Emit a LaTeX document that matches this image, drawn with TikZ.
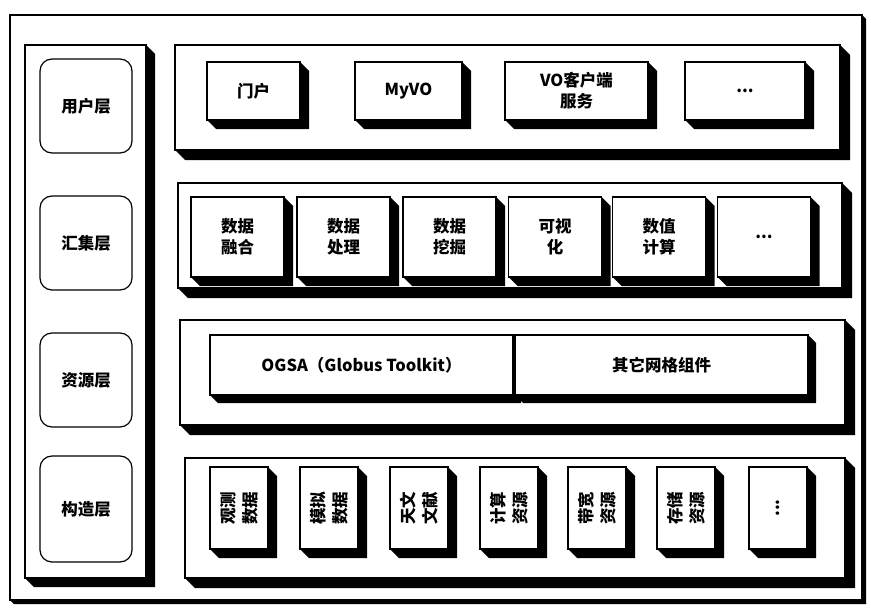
\documentclass[tikz,border=0pt]{standalone}
\usepackage{fontspec}
\setmainfont{Noto Sans CJK SC}
\usetikzlibrary{calc}
\tikzset{
  panel/.style={draw, line width=1.2pt, fill=white, inner sep=0pt, outer sep=0pt},
  lbl/.style={draw, line width=1.2pt, rounded corners=12pt, fill=white, inner sep=0pt, outer sep=0pt,
    font=\bfseries\fontsize{16.5}{19}\selectfont, minimum width=92pt},
  blk/.style={draw, line width=1.2pt, fill=white, inner sep=0pt, outer sep=0pt, align=center,
    font=\bfseries\fontsize{16.5}{21}\selectfont},
  vblk/.style={blk, minimum width=58pt, minimum height=82pt},
  vtxt/.style={rotate=90, align=center, inner sep=0pt, font=\bfseries\fontsize{16.5}{22}\selectfont},
}
\newcommand\extr[2]{\fill (#1.north east) -- ++(#2,#2) -- ($(#1.south east)+(#2,#2)$) -- ($(#1.south west)+(#2,#2)$) -- (#1.south west) -- (#1.south east) -- cycle;}
\begin{document}
\begin{tikzpicture}[x=1pt,y=-1pt]
\useasboundingbox (0,0) rectangle (871,613);
\fill[white] (0,0) rectangle (871,613);
% outer frame
\node[panel, minimum width=852pt, minimum height=585pt] (outer) at (436,307.5) {};
\extr{outer}{4}
% left column
\node[panel, minimum width=121pt, minimum height=533pt] (left) at (85.5,311.5) {};
\extr{left}{9}
\node[lbl, minimum height=94pt] (l1) at (86,106) {用户层};
\node[lbl, minimum height=94pt] (l2) at (86,243) {汇集层};
\node[lbl, minimum height=94pt] (l3) at (86,380) {资源层};
\node[lbl, minimum height=106pt] (l4) at (86,509) {构造层};
% row 1
\node[panel, minimum width=665pt, minimum height=105pt] (p1) at (507.5,97.5) {};
\extr{p1}{10}
\node[blk, minimum width=93pt, minimum height=58pt] (a1) at (253.5,91) {门户};
\extr{a1}{9}
\node[blk, minimum width=107pt, minimum height=58pt] (a2) at (408.5,91) {MyVO};
\extr{a2}{9}
\node[blk, minimum width=143pt, minimum height=58pt] (a3) at (576.5,91) {VO客户端\\服务};
\extr{a3}{9}
\node[blk, minimum width=120pt, minimum height=58pt] (a4) at (745,91) {...};
\extr{a4}{9}
% row 2
\node[panel, minimum width=664pt, minimum height=105pt] (p2) at (510,235.5) {};
\extr{p2}{10}
\node[blk, minimum width=93pt, minimum height=80pt] (b1) at (237.5,237) {数据\\融合};
\extr{b1}{9}
\node[blk, minimum width=93pt, minimum height=80pt] (b2) at (343.5,237) {数据\\处理};
\extr{b2}{9}
\node[blk, minimum width=93pt, minimum height=80pt] (b3) at (449.5,237) {数据\\挖掘};
\extr{b3}{9}
\node[blk, minimum width=93pt, minimum height=80pt] (b4) at (555,237) {可视\\化};
\extr{b4}{9}
\node[blk, minimum width=93pt, minimum height=80pt] (b5) at (659,237) {数值\\计算};
\extr{b5}{9}
\node[blk, minimum width=93pt, minimum height=80pt] (b6) at (764,237) {...};
\extr{b6}{9}
% row 3
\node[panel, minimum width=665pt, minimum height=105pt] (p3) at (512.5,372.5) {};
\extr{p3}{10}
\node[blk, minimum width=303pt, minimum height=60pt] (c1) at (361.5,365) {OGSA（Globus Toolkit）};
\extr{c1}{8}
\node[blk, minimum width=293pt, minimum height=60pt] (c2) at (661.5,365) {其它网格组件};
\extr{c2}{8}
% row 4
\node[panel, minimum width=660pt, minimum height=120pt] (p4) at (515,518) {};
\extr{p4}{10}
\node[vblk] (d1) at (239,508) {};
\extr{d1}{9}
\node[vtxt] (t1) at (d1.center) {观测\\数据};
\node[vblk] (d2) at (329,508) {};
\extr{d2}{9}
\node[vtxt] (t2) at (d2.center) {模拟\\数据};
\node[vblk] (d3) at (419,508) {};
\extr{d3}{9}
\node[vtxt] (t3) at (d3.center) {天文\\文献};
\node[vblk] (d4) at (509,508) {};
\extr{d4}{9}
\node[vtxt] (t4) at (d4.center) {计算\\资源};
\node[vblk] (d5) at (597,508) {};
\extr{d5}{9}
\node[vtxt] (t5) at (d5.center) {带宽\\资源};
\node[vblk] (d6) at (686,508) {};
\extr{d6}{9}
\node[vtxt] (t6) at (d6.center) {存储\\资源};
\node[vblk] (d7) at (778,508) {};
\extr{d7}{9}
\node[vtxt] (t7) at (d7.center) {...};
\end{tikzpicture}
\end{document}
